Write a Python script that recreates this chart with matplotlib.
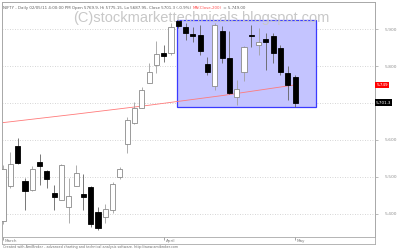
import numpy as np
import matplotlib
matplotlib.use('Agg')
import matplotlib.pyplot as plt
from matplotlib.patches import Rectangle

# NIFTY daily candles, 1 Mar 2011 - 2 May 2011
opens = [5381, 5476, 5584, 5489, 5465, 5540, 5516, 5457, 5438, 5419,
         5476, 5454, 5473, 5405, 5392, 5411, 5500, 5589, 5646, 5686,
         5754, 5803, 5835, 5835, 5922, 5905, 5886, 5884, 5805, 5746,
         5895, 5822, 5716, 5784, 5884, 5857, 5873, 5881, 5849, 5781,
         5769.9]
highs = [5532, 5568, 5605, 5497, 5530, 5562, 5519, 5478, 5535, 5497,
         5532, 5508, 5476, 5419, 5427, 5487, 5527, 5662, 5703, 5743,
         5808, 5868, 5857, 5916, 5924, 5916, 5905, 5911, 5824, 5916,
         5908, 5895, 5762, 5854, 5911, 5903, 5889, 5889, 5857, 5800,
         5775.15]
lows = [5373, 5470, 5535, 5411, 5462, 5478, 5470, 5411, 5438, 5376,
        5476, 5411, 5365, 5357, 5376, 5403, 5495, 5565, 5643, 5686,
        5754, 5781, 5811, 5830, 5903, 5870, 5865, 5830, 5776, 5735,
        5808, 5724, 5695, 5760, 5851, 5830, 5789, 5808, 5776, 5708,
        5687.95]
closes = [5522, 5535, 5538, 5462, 5522, 5530, 5495, 5446, 5532, 5449,
          5511, 5446, 5373, 5362, 5414, 5481, 5522, 5654, 5687, 5735,
          5784, 5832, 5827, 5905, 5908, 5889, 5882, 5841, 5784, 5911,
          5822, 5727, 5738, 5851, 5882, 5865, 5865, 5835, 5784, 5749,
          5701.3]

# 200 day moving average, read at a few candles
ma_idx = [0, 10, 20, 30, 40]
ma_vals = [5647, 5670, 5694, 5720, 5749]

month_names = ['March', 'April', 'May']
month_idx = [0, 22, 40]
yticks = [5400, 5500, 5600, 5700, 5800, 5900]

fig = plt.figure(figsize=(4, 2.49), dpi=100)
ax = fig.add_axes([2 / 400, 1 - 237 / 249, 373 / 400, 235 / 249])
ax.set_xlim(-0.15, 50.95)
ax.set_ylim(5337.8, 5973)

# gridlines
for v in yticks:
    ax.axhline(v, color='#c8c8c8', lw=0.6, ls=(0, (1, 2)), zorder=0)

# highlighted consolidation box
ax.add_patch(Rectangle((23.84, 5689.2), 19.04, 235.1, facecolor='#c4c4ff',
                       edgecolor='#3a3aff', lw=0.9, zorder=1))

# watermark
ax.text(0.535, 0.93, '(C)stockmarkettechnicals.blogspot.com', transform=ax.transAxes,
        ha='center', va='center', fontsize=10.5, color='#c8c8c8',
        family='Liberation Sans', zorder=1.5)

# moving average
ax.plot(ma_idx, ma_vals, color='#ff7a7a', lw=0.6, zorder=2)
ax.plot([-0.15, 0], [5646.5, 5647], color='#ff7a7a', lw=0.6, zorder=2)

# candles
w = 0.7
for i in range(len(opens)):
    o, h, l, c = opens[i], highs[i], lows[i], closes[i]
    up = c >= o
    wick_col = '#a0a0a0' if up else '#606060'
    ax.vlines(i, l, h, color=wick_col, lw=0.6, zorder=3)
    lo = min(o, c)
    ht = max(abs(c - o), 1.0)
    if up:
        ax.add_patch(Rectangle((i - w / 2, lo), w, ht, facecolor='white',
                               edgecolor='#8a8a8a', lw=0.6, zorder=4))
    else:
        ax.add_patch(Rectangle((i - w / 2, lo), w, ht, facecolor='black',
                               edgecolor='black', lw=0.6, zorder=4))

# axes styling
for s in ax.spines.values():
    s.set_color('#a8a8a8')
    s.set_linewidth(0.7)
ax.set_xticks([])
ax.yaxis.tick_right()
ax.set_yticks(yticks)
# the 5,700 label sits under the last close marker
ax.set_yticklabels(['' if v == 5700 else f'{v:,}' for v in yticks])
ax.tick_params(axis='y', length=2, width=0.5, color='#a0a0a0', labelsize=3.2,
               labelcolor='#909090', pad=5)

# last value labels
ax.text(1.004, (5749 - 5337.8) / (5973 - 5337.8), '5,749', transform=ax.transAxes,
        fontsize=3, color='white', va='center', ha='left', clip_on=False, zorder=10,
        bbox=dict(boxstyle='square,pad=0.25', fc='#ff0000', ec='none'))
ax.text(1.002, (5701.3 - 5337.8) / (5973 - 5337.8), '5,701.3', transform=ax.transAxes,
        fontsize=3, color='white', va='center', ha='left', clip_on=False, zorder=10,
        bbox=dict(boxstyle='square,pad=0.25', fc='black', ec='none'))

# title line
t1 = ax.text(0.003, 0.985, 'NIFTY - Daily 02/05/11 4:00:00 PM Open 5769.9, Hi 5775.15, '
             'Lo 5687.95, Close 5701.3 (-0.9%) ', transform=ax.transAxes,
             fontsize=2.9, color='#606060', va='top', ha='left')
fig.canvas.draw()
bb = t1.get_window_extent()
x_next = ax.transAxes.inverted().transform((bb.x1, bb.y1))[0]
t2 = ax.text(x_next, 0.985, 'MA(Close,200)', transform=ax.transAxes,
             fontsize=2.9, color='#ff5050', va='top', ha='left')
fig.canvas.draw()
bb = t2.get_window_extent()
x_next = ax.transAxes.inverted().transform((bb.x1, bb.y1))[0]
ax.text(x_next, 0.985, ' = 5,749.00', transform=ax.transAxes,
        fontsize=2.9, color='#606060', va='top', ha='left')

# month strip
ax2 = fig.add_axes([2 / 400, 1 - 244 / 249, 373 / 400, 7 / 249])
ax2.set_xlim(-0.15, 50.95)
ax2.set_ylim(0, 1)
ax2.set_xticks([])
ax2.set_yticks([])
for s in ax2.spines.values():
    s.set_color('#a8a8a8')
    s.set_linewidth(0.6)
for name, idx in zip(month_names, month_idx):
    ax2.vlines(idx, 0.55, 1.0, color='#808080', lw=0.5)
    ax2.text(idx + 0.25, 0.45, name, fontsize=3, color='#808080', va='center', ha='left')

fig.text(3 / 400, 1 - 247 / 249, 'Created with AmiBroker - advanced charting and technical '
         'analysis software. http://www.amibroker.com', fontsize=2.4, color='#707070',
         va='center', ha='left')

fig.savefig('out.png', dpi=100)
